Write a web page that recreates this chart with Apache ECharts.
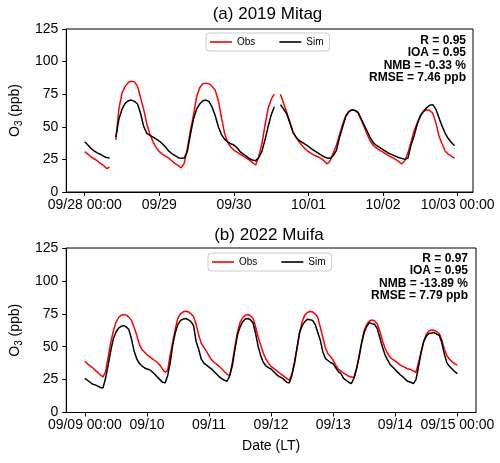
<!DOCTYPE html>
<html>
<head>
<meta charset="utf-8">
<script src="https://cdn.jsdelivr.net/npm/echarts@6/dist/echarts.min.js"></script>
<style>
html,body{margin:0;padding:0;background:#fff;}
#chart{width:500px;height:463px;}
</style>
</head>
<body>
<div id="chart"></div>
<script>
// ---- Data (hourly, index = hours since first tick) ----
const topTickHours = [0, 24, 48, 72, 96, 120];
const topTickLabels = ['09/28 00:00', '09/29', '09/30', '10/01', '10/02', '10/03 00:00'];
const bottomTickHours = [0, 24, 48, 72, 96, 120, 144];
const bottomTickLabels = ['09/09 00:00', '09/10', '09/11', '09/12', '09/13', '09/14', '09/15 00:00'];

const topObs = [31,29,27,25.5,24,22,20.5,18,19,null,
  40,64,76,81,84,85,84.5,81,72,63,52,44,38.5,34,
  31,29,27.5,26,24,22,20.5,18.5,22,33,47,59,73,80,83,83.5,83,81,78,70,57,45,38,34.5,
  32,30.5,29,27.5,26,24.5,22.5,20.7,27,37,51,64,71,75,null,75,68,61,54,46,42,38.5,35.5,33,
  31,29.5,28,27,25.8,24,21.5,24,30,36,44,52,58.5,62,63,62.5,60.5,55,49.5,43.5,38.5,35.5,33.5,32,
  30.5,29,27.5,26.5,25,23.5,21.5,24,30,38,47,53,58,61.6,63,62.5,60.5,53,43,37,31.5,29,27.5,25.8];
const topSim = [38.5,36,33.5,31.5,30,29,27.5,26.5,26,null,
  42,56,63.5,68,70,70.5,69.5,67.5,60,50,45,43.5,42,40.5,
  39,37,34.5,31.5,29.5,28,26.5,25.8,26,31,44,56,63.5,67.5,70,70.5,69.3,65,58.5,50,44,40.5,38.5,37,
  36,34,31,29,27.5,25.5,24.5,24,26.5,31,40,50,59,65.4,null,67,63.5,60,53,46,42,39.5,38,36.5,
  35,33,31.5,30,28.5,27,26,25.8,28,32,42,50,57.8,61.5,63,62.5,61,56,51,46,41,37.5,35.5,34,
  32.5,31,29.5,28.5,27.5,26.5,25.8,25,26,36,43,52,58.5,62,64.5,66.5,67,63.5,57,50.5,45,41,38,35.5];

const bottomObs = [39,37,35.5,34,32,30.5,28.5,27,31,42,53,62,68.5,72,74,74.5,74,72.5,70,65,59,52,48,46,
  44,42.5,41,39.5,38,36,33,30.5,32,44,54,64,72,75,76.5,77,76.5,75,73,67,59,52.5,49.5,46.5,
  43,40,38,36.5,35,33,31,29,28,38,50,61,68.5,72,74,74.5,73.5,71.5,65,57,51,45,40.5,37.5,
  35,33.5,32,30.5,29,27.5,26,24.5,29,38,49,60,69,74,76,76.8,76.5,75,72.5,65,57,49,44.5,42.5,
  39.5,36,33,31.5,30,28.8,27.5,27,26.5,33,43,53,62.5,67,69.5,70.3,69.5,67.5,62,55,49,45,42,40.3,
  39,37.5,36,35,34,33,32.6,31.5,30.6,38,46,54,59.5,62,62.7,62.5,61.5,60,55,48,43,40.5,38.5,37,
  36];
const bottomSim = [26,24.5,23,21.5,21,20,19,18.7,26,36,47,56,61,64,65.5,66,65,63,56,47,41,37.5,35.5,34,
  33,32.5,31,29,27,25,23,22.5,28,38,52,61,67,70,71,71.4,70.5,69,66,54,48,40.5,37.5,36,
  34.5,33,31,29,27,25.5,24.5,23.7,28,35.5,48,59,65,69,71,71.4,70.5,68,60,50,43,38,35.5,34,
  33,31,29,27.5,26.5,25,23,22.5,28,37,49,61,66,69,70.9,70.5,70,67,61,55,46,41,39.5,38,
  37,34,31,29.5,26,24.5,23,22,26,33,42,53,61,65.5,68.3,67.5,67,64,57,50,44,40,36.5,34.5,
  32.5,30.5,28.5,27,25,23.5,23,22,25,35,46,54,58,60,60.5,60.7,59.5,58.5,53,44,37.5,35,33,31,
  29.6];

const topStats = ['R = 0.95', 'IOA = 0.95', 'NMB = -0.33 %', 'RMSE = 7.46 ppb'];
const bottomStats = ['R = 0.97', 'IOA = 0.95', 'NMB = -13.89 %', 'RMSE = 7.79 ppb'];
const panelTitles = ['(a) 2019 Mitag', '(b) 2022 Muifa'];
const seriesNames = ['Obs', 'Sim'];
const seriesColors = ['#ff0000', '#000000'];

// ---- Chart ----
const FONT = '"Liberation Sans", Arial, sans-serif';
const pairs = vals => vals.map((v, i) => [i, v]);

function xAxisFor(gridIndex, ticks, labels, min, max, withName) {
  return {
    gridIndex, type: 'value', min, max,
    axisLine: { show: true, onZero: false, lineStyle: { color: '#000', width: 1 } },
    axisTick: { show: true, customValues: ticks, length: 4, inside: false, lineStyle: { color: '#000', width: 1 } },
    axisLabel: {
      customValues: ticks, fontSize: 14, color: '#000', fontFamily: FONT, margin: 6,
      formatter: v => labels[Math.round(v / 24)]
    },
    splitLine: { show: false },
    name: withName ? 'Date (LT)' : '',
    nameLocation: 'middle', nameGap: 27,
    nameTextStyle: { fontSize: 14, color: '#000', fontFamily: FONT }
  };
}
function yAxisFor(gridIndex) {
  return {
    gridIndex, type: 'value', min: 0, max: 125, interval: 25,
    axisLine: { show: true, onZero: false, lineStyle: { color: '#000', width: 1 } },
    axisTick: { show: true, length: 4, lineStyle: { color: '#000', width: 1 } },
    axisLabel: { fontSize: 14, color: '#000', fontFamily: FONT, margin: 8 },
    splitLine: { show: false },
    name: '{n|O}{s|3}{n| (ppb)}',
    nameLocation: 'middle', nameGap: 42, nameRotate: 90,
    nameTextStyle: {
      rich: {
        n: { fontSize: 14, color: '#000', fontFamily: FONT, lineHeight: 18 },
        s: { fontSize: 10, color: '#000', fontFamily: FONT, lineHeight: 18, verticalAlign: 'bottom' }
      }
    }
  };
}
function lineSeries(name, color, xi, vals) {
  return {
    name, type: 'line', xAxisIndex: xi, yAxisIndex: xi,
    data: pairs(vals), showSymbol: false, symbol: 'none', connectNulls: false,
    lineStyle: { color, width: 1.5 }, itemStyle: { color }, animation: false
  };
}
function legendAt(left, top) {
  return {
    left, top, orient: 'horizontal', data: seriesNames,
    icon: 'rect', itemWidth: 22, itemHeight: 1.6, itemGap: 24,
    backgroundColor: '#fff', borderColor: '#cccccc', borderWidth: 1, borderRadius: 3,
    padding: [4, 6, 4, 4],
    textStyle: { fontSize: 10, color: '#000', fontFamily: FONT }
  };
}
function statsText(x, y, lines) {
  return {
    type: 'text', x, y,
    style: { text: lines.join('\n'), align: 'right', verticalAlign: 'top',
      font: 'bold 12px ' + FONT, lineHeight: 12.6, fill: '#000' }
  };
}
function titleText(x, y, t) {
  return {
    type: 'text', x, y,
    style: { text: t, align: 'center', verticalAlign: 'middle', font: '17px ' + FONT, fill: '#000' }
  };
}

const chart = echarts.init(document.getElementById('chart'), null, { renderer: 'canvas' });
chart.setOption({
  animation: false,
  backgroundColor: '#fff',
  grid: [
    { left: 62, right: 27, top: 29, height: 163, show: true, borderColor: '#000', borderWidth: 1 },
    { left: 63, right: 24, top: 248, height: 164.5, show: true, borderColor: '#000', borderWidth: 1 }
  ],
  xAxis: [
    xAxisFor(0, topTickHours, topTickLabels, -5.95, 124.95, false),
    xAxisFor(1, bottomTickHours, bottomTickLabels, -7.2, 151.2, true)
  ],
  yAxis: [yAxisFor(0), yAxisFor(1)],
  legend: [legendAt(206, 33), legendAt(208, 253)],
  series: [
    lineSeries(seriesNames[0], seriesColors[0], 0, topObs),
    lineSeries(seriesNames[1], seriesColors[1], 0, topSim),
    lineSeries(seriesNames[0], seriesColors[0], 1, bottomObs),
    lineSeries(seriesNames[1], seriesColors[1], 1, bottomSim)
  ],
  graphic: [
    titleText(267.5, 14, panelTitles[0]),
    titleText(269, 235, panelTitles[1]),
    statsText(466, 34, topStats),
    statsText(468, 252, bottomStats)
  ]
});
</script>
</body>
</html>
